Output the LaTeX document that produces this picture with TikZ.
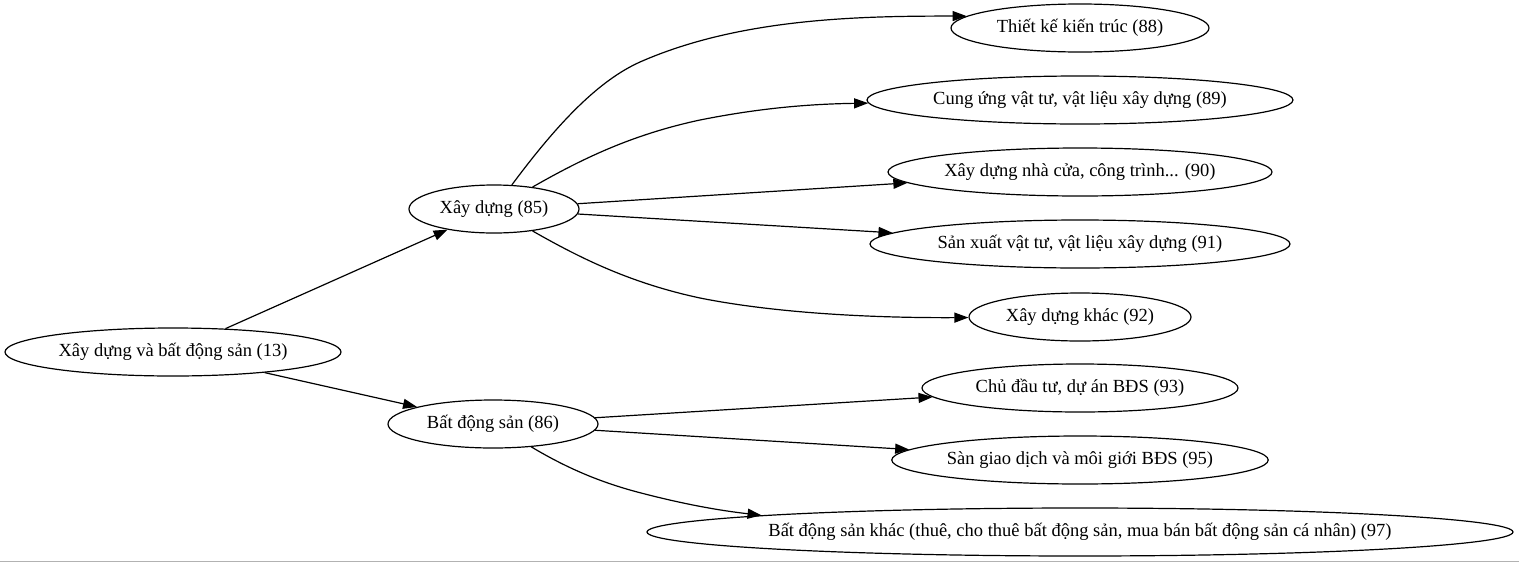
\documentclass[tikz,border=0pt]{standalone}
\usepackage{fontspec}
\setmainfont{Liberation Serif}
\usetikzlibrary{shapes.geometric,arrows.meta}
\begin{document}
\begin{tikzpicture}[x=1pt,y=-1pt,
  el/.style={draw,ellipse,line width=1.2pt,inner sep=0pt,minimum height=48pt,font=\fontsize{18.5}{20}\selectfont},
  ed/.style={line width=1.2pt,-{Triangle[length=14pt,width=10pt]}}]
\useasboundingbox (0,0) rectangle (1519,563);
\node[el,minimum width=336pt] (r) at (173,352) {Xây dựng và bất động sản (13)};
\node[el,minimum width=170pt] (a) at (494,209) {Xây dựng (85)};
\node[el,minimum width=210pt] (b) at (493,424) {Bất động sản (86)};
\node[el,minimum width=258pt] (n88) at (1080,28) {Thiết kế kiến trúc (88)};
\node[el,minimum width=426pt] (n89) at (1080,100) {Cung ứng vật tư, vật liệu xây dựng (89)};
\node[el,minimum width=384pt] (n90) at (1080,172) {Xây dựng nhà cửa, công trình... (90)};
\node[el,minimum width=420pt] (n91) at (1080,244) {Sản xuất vật tư, vật liệu xây dựng (91)};
\node[el,minimum width=222pt] (n92) at (1080,317) {Xây dựng khác (92)};
\node[el,minimum width=316pt] (n93) at (1080,388) {Chủ đầu tư, dự án BĐS (93)};
\node[el,minimum width=374pt] (n95) at (1080,460) {Sàn giao dịch và môi giới BĐS (95)};
\node[el,minimum width=866pt,inner xsep=-7pt] (n97) at (1080,532) {Bất động sản khác (thuê, cho thuê bất động sản, mua bán bất động sản cá nhân) (97)};
\draw[ed] (r) -- (a);
\draw[ed] (r) -- (b);
\draw[ed] (a) .. controls (560,120) and (600,80) .. (640,62) .. controls (740,18) and (860,16) .. (n88.174);
\draw[ed] (a) .. controls (580,160) and (630,135) .. (700,120) .. controls (760,108) and (810,104) .. (n89);
\draw[ed] (a) -- (n90);
\draw[ed] (a) -- (n91);
\draw[ed] (a) .. controls (580,258) and (630,283) .. (700,298) .. controls (780,314) and (880,318) .. (n92);
\draw[ed] (b) -- (n93);
\draw[ed] (b) -- (n95);
\draw[ed] (b) .. controls (570,470) and (605,484) .. (645,494) .. controls (680,503) and (715,510) .. (n97.177);
\draw[gray!60,line width=1.5pt] (0,561.5) -- (1519,561.5);
\end{tikzpicture}
\end{document}
